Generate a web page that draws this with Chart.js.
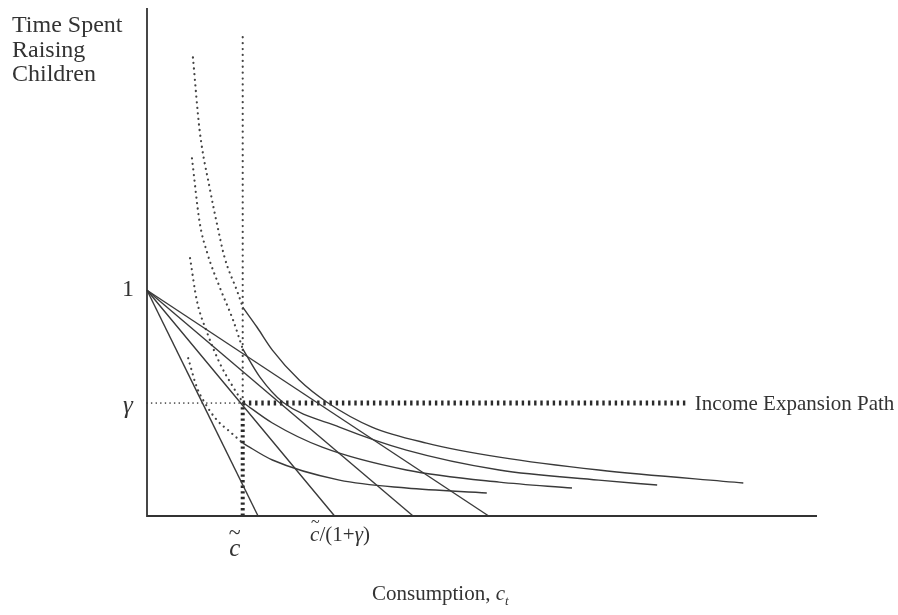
<!DOCTYPE html>
<html>
<head>
<meta charset="utf-8">
<script src="https://cdn.jsdelivr.net/npm/chart.js@4.4.0/dist/chart.umd.min.js"></script>
<style>
  html, body { margin: 0; padding: 0; background: #ffffff; }
  #wrap { width: 898px; height: 615px; position: relative; }
</style>
</head>
<body>
<div id="wrap"><canvas id="c"></canvas></div>
<script>
// ---- values (x: consumption, c~ = 1; y: time spent raising children) ----
const cTilde = 1.0;
const gamma = 0.5;
const xMax = 7.0;
const yMax = 2.25;
const pathEnd = 5.63;        // end of the income expansion path
const tildeLineTop = 2.14;   // top of the dotted vertical line at c~

const budgetIntercepts = [1.16, 1.96, 2.78, 3.57];  // budget lines from (0,1)

const curve1X = [1.0, 1.31, 2.01, 2.71, 3.55];
const curve1Y = [0.323, 0.248, 0.159, 0.124, 0.102];
const curve1DotX = [0.43, 0.52, 0.60, 0.73, 0.87, 1.0];
const curve1DotY = [0.699, 0.571, 0.504, 0.425, 0.372, 0.323];

const curve2X = [1.0, 1.31, 1.83, 2.71, 3.68, 4.44];
const curve2Y = [0.504, 0.412, 0.305, 0.204, 0.150, 0.124];
const curve2DotX = [0.45, 0.52, 0.63, 0.76, 0.90, 1.0];
const curve2DotY = [1.142, 0.956, 0.810, 0.677, 0.571, 0.504];

const curve3X = [1.0, 1.18, 1.42, 2.01, 2.71, 3.68, 4.72, 5.33];
const curve3Y = [0.74, 0.615, 0.504, 0.394, 0.292, 0.204, 0.159, 0.137];
const curve3DotX = [0.47, 0.55, 0.63, 0.76, 0.90, 1.0];
const curve3DotY = [1.584, 1.301, 1.164, 1.013, 0.867, 0.74];

const curve4X = [1.0, 1.15, 1.31, 1.59, 1.88, 2.35, 2.92, 3.68, 4.72, 6.23];
const curve4Y = [0.925, 0.836, 0.735, 0.602, 0.504, 0.394, 0.323, 0.261, 0.204, 0.146];
const curve4DotX = [0.48, 0.55, 0.66, 0.73, 0.81, 0.95, 1.0];
const curve4DotY = [2.031, 1.708, 1.442, 1.296, 1.146, 0.987, 0.925];

const yTickLabels = ["1", "γ"];
const yTickValues = [1, gamma];

// ---- helpers ----
const INK = '#3a3a3a';
const zip = (xs, ys) => xs.map((x, i) => ({ x: x, y: ys[i] }));

function solid(data) {
  return { data, borderColor: INK, borderWidth: 1.4, pointRadius: 0, showLine: true,
           cubicInterpolationMode: 'monotone', clip: false, fill: false };
}
function dotted(data) {
  return { data, borderColor: '#444', borderWidth: 2.2, borderDash: [0.1, 5.5], borderCapStyle: 'round',
           pointRadius: 0, showLine: true, cubicInterpolationMode: 'monotone', clip: false, fill: false };
}
function fineDots(data, gap, w) {
  return { data, borderColor: '#444', borderWidth: w, borderDash: [0.1, gap], borderCapStyle: 'round',
           pointRadius: 0, showLine: true, clip: false, fill: false };
}
function thickDash(data, dash, gap, w) {
  return { data, borderColor: '#2a2a2a', borderWidth: w, borderDash: [dash, gap], borderCapStyle: 'butt',
           pointRadius: 0, showLine: true, clip: false, fill: false };
}

const datasets = [];
// axes
datasets.push({ data: [{x: 0, y: yMax}, {x: 0, y: 0}, {x: xMax, y: 0}], borderColor: '#333', borderWidth: 1.8,
                pointRadius: 0, showLine: true, clip: false, tension: 0 });
// budget lines
budgetIntercepts.forEach(b => datasets.push(solid([{x: 0, y: 1}, {x: b, y: 0}])));
// indifference curves
[[curve1X, curve1Y], [curve2X, curve2Y], [curve3X, curve3Y], [curve4X, curve4Y]]
  .forEach(([xs, ys]) => datasets.push(solid(zip(xs, ys))));
[[curve1DotX, curve1DotY], [curve2DotX, curve2DotY], [curve3DotX, curve3DotY], [curve4DotX, curve4DotY]]
  .forEach(([xs, ys]) => datasets.push(dotted(zip(xs, ys))));
// guides
datasets.push(fineDots([{x: 0, y: gamma}, {x: cTilde, y: gamma}], 4.5, 1.6));
datasets.push(fineDots([{x: cTilde, y: gamma}, {x: cTilde, y: tildeLineTop}], 5.8, 2.2));
datasets.push(thickDash([{x: cTilde, y: gamma}, {x: pathEnd, y: gamma}], 2.4, 3.8, 5));
datasets.push(thickDash([{x: cTilde, y: 0}, {x: cTilde, y: gamma}], 2.4, 3.2, 4));

const SERIF = '"Liberation Serif", "DejaVu Serif", serif';

const labelPlugin = {
  id: 'labels',
  afterDatasetsDraw(chart) {
    const ctx = chart.ctx;
    const xs = chart.scales.x, ys = chart.scales.y;
    ctx.save();
    ctx.fillStyle = '#333';
    // y-axis title
    ctx.font = '24px ' + SERIF;
    ctx.textAlign = 'left';
    ctx.textBaseline = 'alphabetic';
    ['Time Spent', 'Raising', 'Children'].forEach((t, i) => ctx.fillText(t, 12, 32 + i * 24.5));
    // y tick labels
    ctx.textAlign = 'center';
    ctx.textBaseline = 'middle';
    ctx.font = '24px ' + SERIF;
    ctx.fillText(yTickLabels[0], 128, ys.getPixelForValue(yTickValues[0]) - 1);
    ctx.font = 'italic 25px ' + SERIF;
    ctx.fillText(yTickLabels[1], 128, ys.getPixelForValue(yTickValues[1]) + 3);
    // income expansion path label
    ctx.font = '21px ' + SERIF;
    ctx.textAlign = 'left';
    ctx.fillText('Income Expansion Path', xs.getPixelForValue(pathEnd) + 9, ys.getPixelForValue(gamma) + 1);
    // c~ label
    const cx = xs.getPixelForValue(cTilde) - 8;
    ctx.textAlign = 'center';
    ctx.textBaseline = 'alphabetic';
    ctx.font = 'italic 25px ' + SERIF;
    ctx.fillText('c', cx, 556);
    ctx.font = '22px ' + SERIF;
    ctx.fillText('~', cx, 539);
    // c~/(1+gamma) label
    ctx.textAlign = 'left';
    ctx.font = 'italic 21px ' + SERIF;
    ctx.fillText('c', 310, 541);
    ctx.font = '16px ' + SERIF;
    ctx.fillText('~', 311, 527);
    ctx.font = '21px ' + SERIF;
    let px = 310 + 9.5;
    ctx.fillText('/(1+', px, 541);
    px += ctx.measureText('/(1+').width;
    ctx.font = 'italic 21px ' + SERIF;
    ctx.fillText('γ', px, 541);
    px += ctx.measureText('γ').width;
    ctx.font = '21px ' + SERIF;
    ctx.fillText(')', px, 541);
    // x-axis title
    ctx.font = '21px ' + SERIF;
    ctx.fillText('Consumption, ', 372, 600);
    let qx = 372 + ctx.measureText('Consumption, ').width;
    ctx.font = 'italic 21px ' + SERIF;
    ctx.fillText('c', qx, 600);
    qx += ctx.measureText('c').width;
    ctx.font = 'italic 13px ' + SERIF;
    ctx.fillText('t', qx, 605);
    ctx.restore();
  }
};

new Chart(document.getElementById('c'), {
  type: 'scatter',
  data: { datasets },
  options: {
    responsive: true,
    maintainAspectRatio: false,
    animation: false,
    layout: { padding: { left: 147, right: 81, top: 8, bottom: 99 } },
    plugins: { legend: { display: false }, tooltip: { enabled: false } },
    scales: {
      x: { type: 'linear', min: 0, max: xMax, display: false },
      y: { type: 'linear', min: 0, max: yMax, display: false }
    }
  },
  plugins: [labelPlugin]
});
</script>
</body>
</html>
